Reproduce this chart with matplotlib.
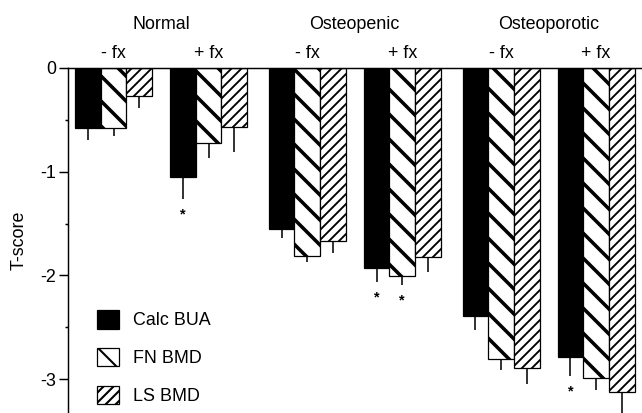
import matplotlib.pyplot as plt
from matplotlib.patches import Patch

plt.rcParams["font.family"] = ["Liberation Sans", "DejaVu Sans"]

groups = ["Normal", "Osteopenic", "Osteoporotic"]
subgroups = ["- fx", "+ fx"]
series_names = ["Calc BUA", "FN BMD", "LS BMD"]

# T-score means, one value per (group, subgroup) cluster
calc_bua = [-0.58, -1.05, -1.55, -1.93, -2.39, -2.79]
calc_bua_err = [0.11, 0.21, 0.09, 0.13, 0.14, 0.18]
fn_bmd = [-0.58, -0.72, -1.81, -2.01, -2.81, -2.99]
fn_bmd_err = [0.08, 0.15, 0.06, 0.08, 0.10, 0.12]
ls_bmd = [-0.27, -0.57, -1.67, -1.82, -2.89, -3.12]
ls_bmd_err = [0.12, 0.24, 0.11, 0.15, 0.16, 0.25]

# significant differences: (cluster index, series index)
stars = [(1, 0), (3, 0), (3, 1), (5, 0)]

DPI = 150
FS = 8.6

fig = plt.figure(figsize=(642 / DPI, 413 / DPI), dpi=DPI)
ax = fig.add_axes([68 / 642, 0.0, 1 - 68 / 642, 1 - 68 / 413])

bar_w = 0.27
group_gap = 2.04
centers = [g * group_gap + s for g in range(len(groups)) for s in range(len(subgroups))]

styles = [
    {"facecolor": "black", "hatch": None, "hlw": None},
    {"facecolor": "white", "hatch": "\\\\", "hlw": 1.7},
    {"facecolor": "white", "hatch": "/////", "hlw": 0.9},
]
values = [calc_bua, fn_bmd, ls_bmd]
errors = [calc_bua_err, fn_bmd_err, ls_bmd_err]

for i, (vals, errs, st) in enumerate(zip(values, errors, styles)):
    xs = [c + (i - 1) * bar_w for c in centers]
    bars = ax.bar(xs, vals, width=bar_w, facecolor=st["facecolor"],
                  edgecolor="black", linewidth=0.6, hatch=st["hatch"], zorder=2)
    if st["hlw"] is not None:
        for b in bars:
            if hasattr(b, "set_hatch_linewidth"):
                b.set_hatch_linewidth(st["hlw"])
    ax.errorbar(xs, vals, yerr=[errs, [0] * len(errs)], fmt="none",
                ecolor="black", elinewidth=0.75, capsize=0, zorder=1)

for ci, si in stars:
    x = centers[ci] + (si - 1) * bar_w
    y = values[si][ci] - errors[si][ci] - 0.15
    ax.text(x, y, "*", ha="center", va="center", fontsize=7, fontweight="bold")

for g, name in enumerate(groups):
    mid = (centers[2 * g] + centers[2 * g + 1]) / 2
    ax.text(mid, 0.42, name, ha="center", va="center", fontsize=FS, clip_on=False)
for c, sg in zip(centers, subgroups * len(groups)):
    ax.text(c, 0.14, sg, ha="center", va="center", fontsize=FS, clip_on=False)

ax.set_xlim(-0.479, 5.563)
ax.set_ylim(-3.327, 0)
ax.set_yticks([0, -1, -2, -3])
ax.set_yticklabels(["0", "-1", "-2", "-3"])
ax.set_yticks([-0.5, -1.5, -2.5], minor=True)
ax.set_xticks([])
ax.tick_params(axis="y", which="major", length=4.3, width=0.7, pad=1.5, labelsize=FS)
ax.tick_params(axis="y", which="minor", length=1.5, width=0.7)

for side in ["right", "bottom"]:
    ax.spines[side].set_visible(False)
ax.spines["left"].set_linewidth(0.7)
ax.spines["top"].set_linewidth(0.7)

ax.set_ylabel("T-score", fontsize=FS)
ax.yaxis.set_label_coords(-0.071, 0.5)

handles = []
for name, st in zip(series_names, styles):
    p = Patch(facecolor=st["facecolor"], edgecolor="black", linewidth=0.6,
              hatch=st["hatch"], label=name)
    if st["hlw"] is not None and hasattr(p, "set_hatch_linewidth"):
        p.set_hatch_linewidth(st["hlw"])
    handles.append(p)
ax.legend(handles=handles, loc="upper left", frameon=False, fontsize=FS,
          bbox_to_anchor=(97 / 642, 1 - 310 / 413), bbox_transform=fig.transFigure,
          borderpad=0, borderaxespad=0, handlelength=1.22, handleheight=1.22,
          handletextpad=0.8, labelspacing=1.03)

fig.savefig("out.png", dpi=DPI)
